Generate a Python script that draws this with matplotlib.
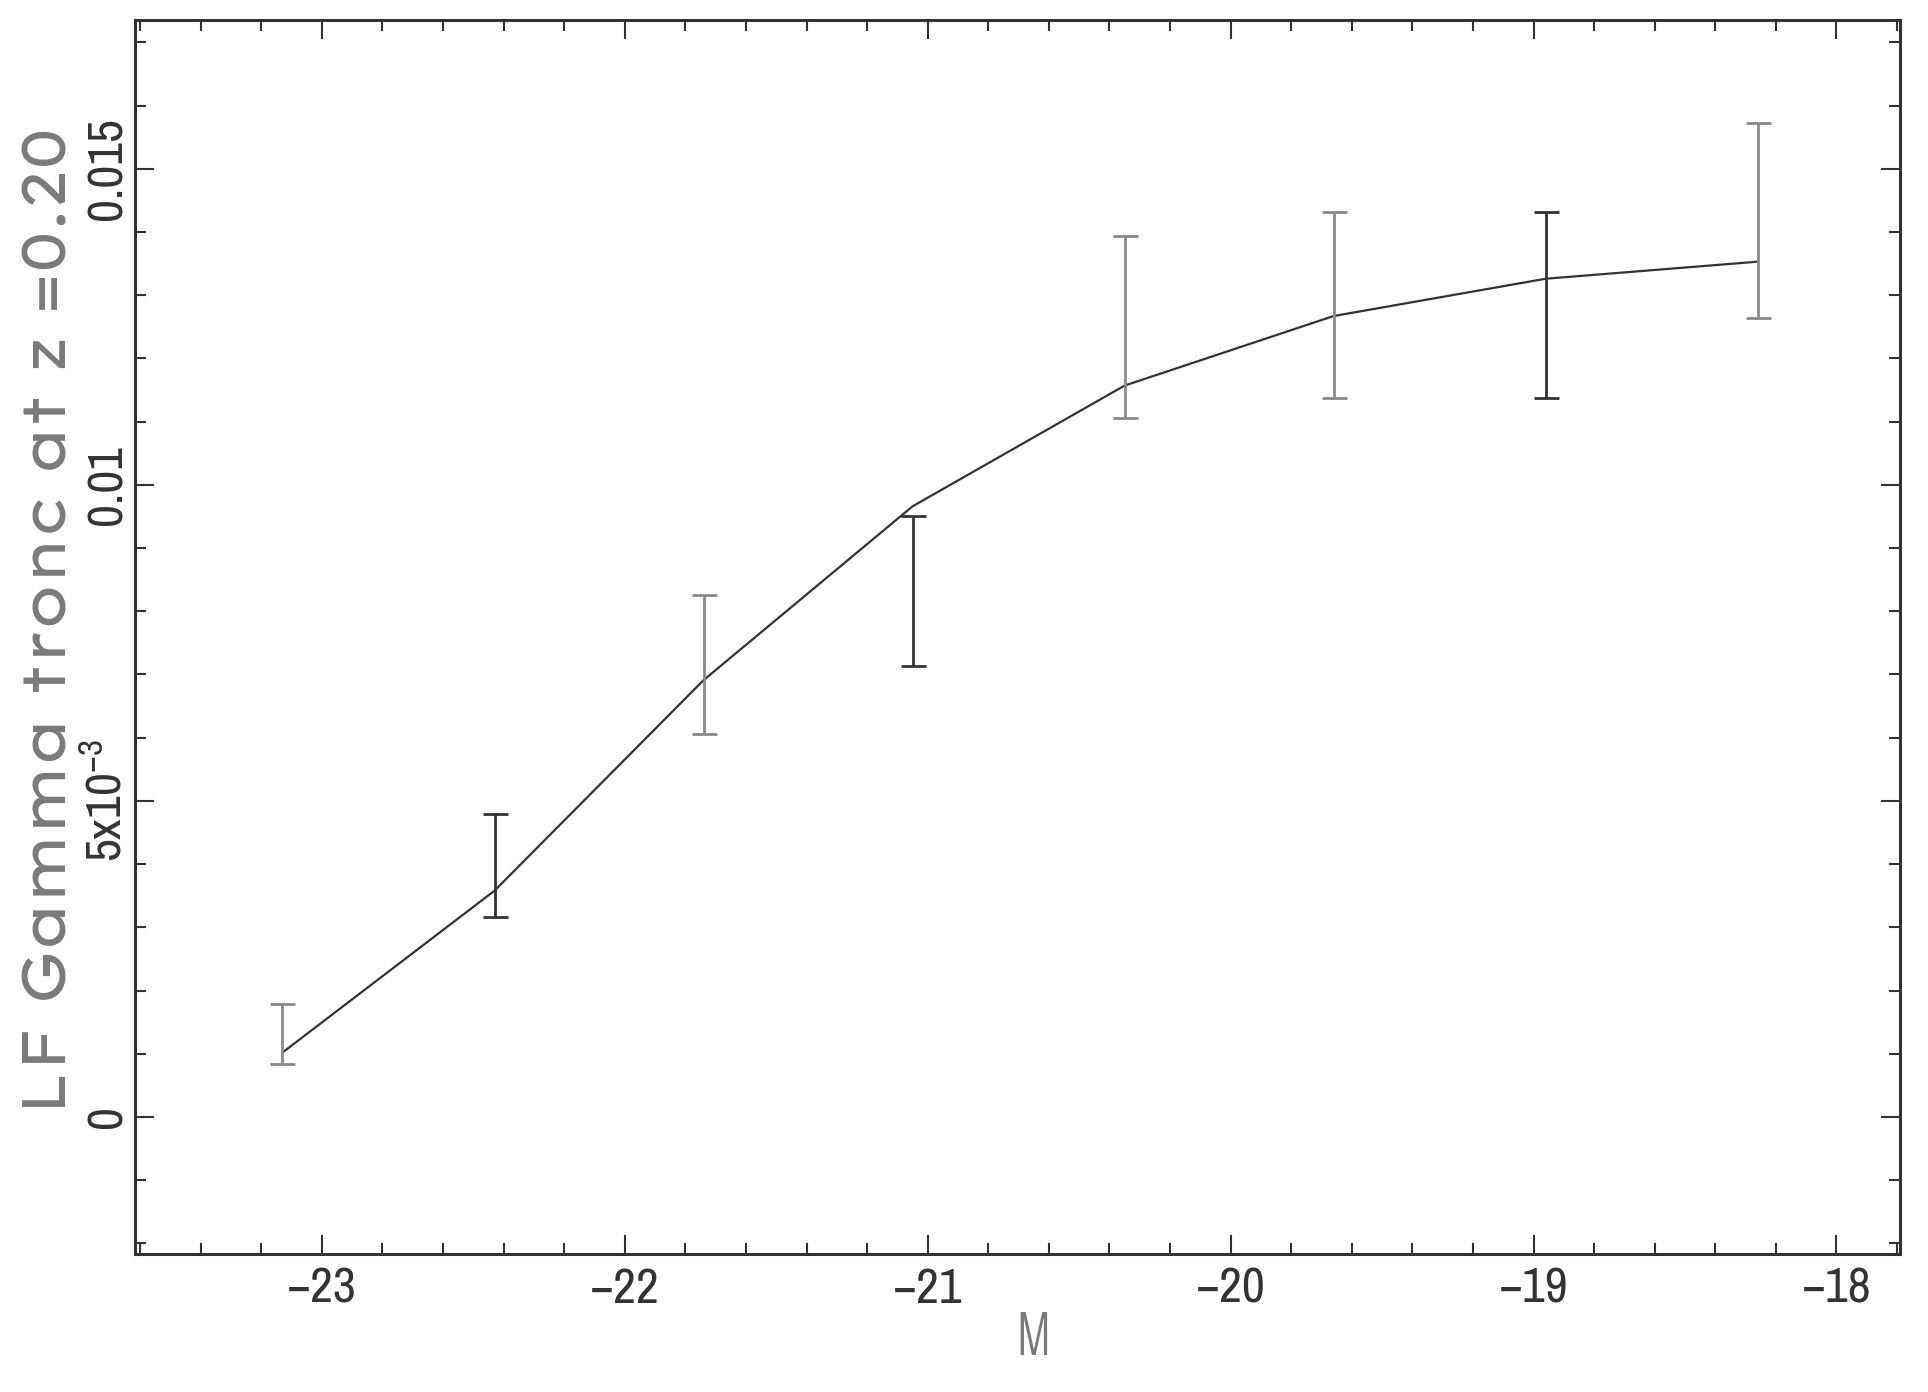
import numpy as np
import matplotlib
matplotlib.use('Agg')
import matplotlib.pyplot as plt
from matplotlib.ticker import MultipleLocator

# magnitude bins and LF values
mags = [-23.13, -22.43, -21.74, -21.05, -20.35, -19.66, -18.96, -18.26]
lf = [1.02e-3, 3.58e-3, 6.91e-3, 9.66e-3, 11.57e-3, 12.67e-3, 13.26e-3, 13.53e-3]
err_hi = [1.78e-3, 4.80e-3, 8.25e-3, 9.51e-3, 13.94e-3, 14.31e-3, 14.31e-3, 15.72e-3]
err_lo = [0.84e-3, 3.17e-3, 6.06e-3, 7.14e-3, 11.06e-3, 11.38e-3, 11.38e-3, 12.64e-3]
bar_cols = ['#8a8a8a', '#333333', '#8a8a8a', '#333333', '#8a8a8a', '#8a8a8a', '#333333', '#8a8a8a']

yticks = [0, 0.005, 0.01, 0.015]
ytick_labels = ['0', r'$\mathregular{5x10^{-3}}$', '0.01', '0.015']
xticks = [-23, -22, -21, -20, -19, -18]

plt.rcParams['mathtext.fontset'] = 'custom'
plt.rcParams['mathtext.rm'] = 'Archivo Narrow'
tick_font = ['Archivo Narrow', 'DejaVu Sans']
lab_font = ['Lexend Exa', 'Didact Gothic', 'DejaVu Sans']
dark = '#333333'
grey = '#7a7a7a'

fig = plt.figure(figsize=(19.28, 13.92), dpi=100)
ax = fig.add_axes([0.070, 0.099, 0.9155, 0.8865])

ax.plot(mags, lf, color=dark, lw=1.6)
for i in range(len(mags)):
    mid = (err_hi[i] + err_lo[i]) / 2
    half = (err_hi[i] - err_lo[i]) / 2
    ax.errorbar(mags[i], mid, yerr=half, fmt='none', ecolor=bar_cols[i],
                elinewidth=2.0, capsize=9, capthick=2.0)

ax.set_xlim(-23.617, -17.79)
ax.set_ylim(-0.00217, 0.01735)

ax.xaxis.set_minor_locator(MultipleLocator(0.2))
ax.yaxis.set_minor_locator(MultipleLocator(0.001))
ax.set_xticks(xticks)
ax.set_xticklabels(['\u2212%d' % abs(v) for v in xticks], family=tick_font, fontsize=36,
                   color=dark, fontweight='medium')
ax.set_yticks(yticks)
ax.set_yticklabels(ytick_labels, family=tick_font, fontsize=36, color=dark,
                   rotation=90, va='center', fontweight='medium')

ax.tick_params(which='both', direction='in', top=True, right=True, color=dark, width=1.5)
ax.tick_params(which='major', length=14)
ax.tick_params(which='minor', length=8)
ax.tick_params(axis='x', pad=9)
ax.tick_params(axis='y', pad=3)

for s in ax.spines.values():
    s.set_linewidth(2.2)
    s.set_color(dark)

fig.text(0.536, 0.039, 'M', family=['Saira ExtraCondensed', 'DejaVu Sans'], fontweight=300,
         fontsize=44, color=grey, ha='center', va='center')
fig.text(0.026, 0.554, 'LF Gamma tronc at z =0.20', family=lab_font, fontweight='light',
         fontsize=44, color=grey, rotation=90, ha='center', va='center')

fig.savefig('out.png', dpi=100)
